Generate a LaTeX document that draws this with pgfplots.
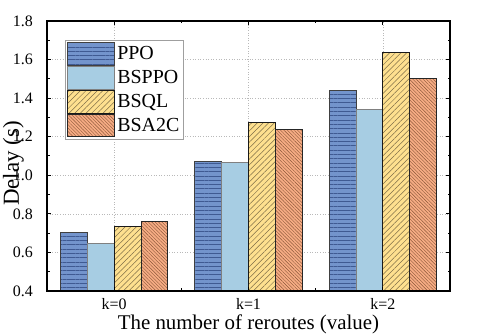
\documentclass[border=0pt]{standalone}
\usepackage{fontspec}
\setmainfont{Liberation Serif}
\usepackage{pgfplots}
\pgfplotsset{compat=1.18}
\usetikzlibrary{patterns.meta,calc}
\definecolor{ppofill}{HTML}{7394CC}
\definecolor{ppoline}{HTML}{3F5A92}
\definecolor{bsppofill}{HTML}{A7CDE3}
\definecolor{bsqlfill}{HTML}{FEE08F}
\definecolor{bsqlline}{HTML}{7E6E48}
\definecolor{bsafill}{HTML}{F6AC84}
\definecolor{bsaline}{HTML}{8A5638}

\begin{document}
\begin{tikzpicture}
\begin{axis}[name=ax, set layers, axis on top,
  scale only axis, width=403bp, height=270bp,
  ymin=0.4, ymax=1.8, xmin=-0.5, xmax=2.5,
  ybar, bar width=0.2,
  axis line style={black, line width=1.2bp},
  tick style={black, line width=1bp},
  tick align=inside, major tick length=4bp, minor tick length=2.5bp,
  xtick={0,1,2}, xticklabels={k=0,k=1,k=2}, minor xtick={0.5,1.5},
  ytick={0.4,0.6,0.8,1.0,1.2,1.4,1.6,1.8}, minor y tick num=1,
  yticklabels={0.4,0.6,0.8,1.0,1.2,1.4,1.6,1.8},
  grid=major,
  major grid style={gray!55, line width=0.6bp, dash pattern=on 1bp off 1.6bp, /pgfplots/on layer=axis background},
  yticklabel style={font=\rmfamily\fontsize{16}{18}\selectfont, inner sep=0pt, anchor=east, xshift=-14bp},
  xticklabel style={font=\rmfamily\fontsize{16}{18}\selectfont, inner sep=0pt, anchor=north, yshift=-7bp},
  xlabel={The number of reroutes (value)},
  ylabel={Delay (s)},
  every axis x label/.style={at={(axis description cs:0.5,0)}, anchor=base, yshift=-38bp, font=\rmfamily\fontsize{21}{24}\selectfont},
  every axis y label/.style={at={(axis description cs:-0.110,0.472)}, anchor=north, rotate=90, inner sep=0pt, font=\rmfamily\fontsize{23}{26}\selectfont},
  legend style={at={(axis description cs:0.0447,0.93)}, anchor=north west, draw=gray!75, line width=0.8bp,
    inner sep=2bp, row sep=0.3bp, font=\rmfamily\fontsize{20}{22}\selectfont, cells={anchor=west}},
  legend image code/.code={\draw[#1] (0bp,-11.3bp) rectangle (47bp,11.3bp);},
]
\addplot[bar shift=-0.3, fill=ppofill, draw=black!75, line width=0.9bp,
  postaction={pattern={Lines[angle=0, distance=4.3bp, line width=0.6bp]}, pattern color=ppoline}]
  coordinates {(0,0.702) (1,1.074) (2,1.438)};
\addlegendentry{PPO}
\addplot[bar shift=-0.1, fill=bsppofill, draw=black!50, line width=0.9bp]
  coordinates {(0,0.647) (1,1.067) (2,1.342)};
\addlegendentry{BSPPO}
\addplot[bar shift=0.1, fill=bsqlfill, draw=black!90, line width=0.9bp,
  postaction={pattern={Lines[angle=45, distance=4bp, line width=0.5bp]}, pattern color=bsqlline}]
  coordinates {(0,0.733) (1,1.274) (2,1.639)};
\addlegendentry{BSQL}
\addplot[bar shift=0.3, fill=bsafill, draw=black!85, line width=0.9bp,
  postaction={pattern={Lines[angle=-45, distance=2.4bp, line width=0.4bp]}, pattern color=bsaline}]
  coordinates {(0,0.759) (1,1.238) (2,1.504)};
\addlegendentry{BSA2C}
\end{axis}
\pgfresetboundingbox
\path ($(ax.south west)+(-47bp,-44bp)$) rectangle ($(ax.north east)+(28bp,21bp)$);
\end{tikzpicture}
\end{document}
